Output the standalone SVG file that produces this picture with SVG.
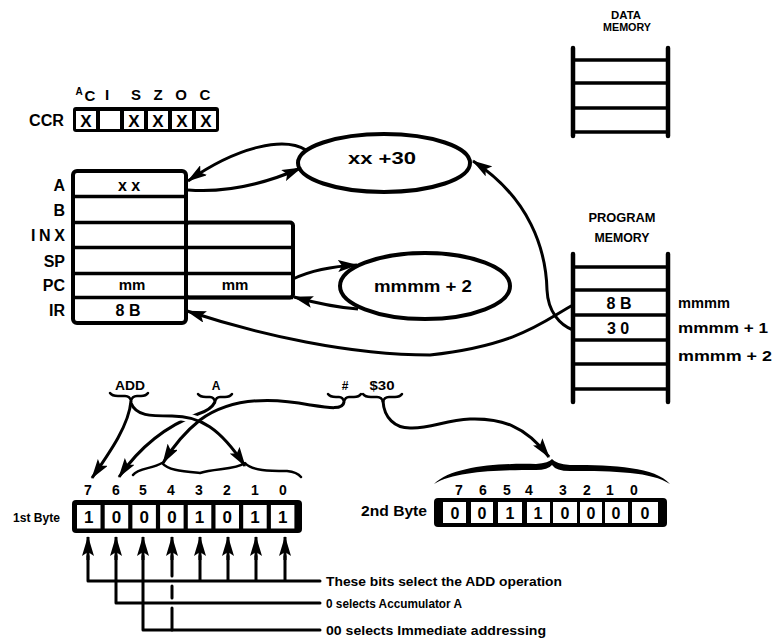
<svg xmlns="http://www.w3.org/2000/svg" width="775" height="644" viewBox="0 0 775 644">
<defs>
<style>
text { font-family: "Liberation Sans", Arial, sans-serif; font-weight: bold; fill: #000; }
.c { text-anchor: middle; }
.e { text-anchor: end; }
.cell { fill: #fff; }
.ln { fill: none; stroke: #000; stroke-width: 3; stroke-linecap: round; stroke-linejoin: round; }
.rail { fill: none; stroke: #000; stroke-width: 4.5; stroke-linecap: round; }
.rung { fill: none; stroke: #000; stroke-width: 3.5; }
.arr { fill: none; stroke: #000; stroke-width: 3; marker-end: url(#ah); }
.halo { fill: none; stroke: #fff; stroke-width: 8; }
.brace { fill: none; stroke: #000; stroke-width: 2.5; stroke-linecap: round; stroke-linejoin: round; }
</style>
<marker id="ah" viewBox="0 0 20 12" refX="19" refY="6" markerWidth="20" markerHeight="12" markerUnits="userSpaceOnUse" orient="auto">
<path d="M0,0 L20,6 L0,12 L4,6 z" fill="#000"/>
</marker>
</defs>
<rect width="775" height="644" fill="#fff"/>

<g id="ccr">
<text x="64" y="126" class="e" font-size="16" textLength="35" lengthAdjust="spacingAndGlyphs">CCR</text>
<text x="79" y="95" class="c" font-size="10">A</text>
<text x="90" y="101" class="c" font-size="15">C</text>
<text x="107" y="100" class="c" font-size="15">I</text>
<text x="136" y="100" class="c" font-size="15">S</text>
<text x="158" y="100" class="c" font-size="15">Z</text>
<text x="181" y="100" class="c" font-size="15">O</text>
<text x="205" y="100" class="c" font-size="15">C</text>
<rect x="73" y="107" width="146" height="25" rx="3" fill="#000"/>
<rect class="cell" x="76" y="111" width="20" height="18"/>
<rect class="cell" x="100" y="111" width="20" height="18"/>
<rect class="cell" x="124" y="111" width="20" height="18"/>
<rect class="cell" x="148" y="111" width="20" height="18"/>
<rect class="cell" x="172" y="111" width="20" height="18"/>
<rect class="cell" x="196" y="111" width="20" height="18"/>
<text x="86" y="127" class="c" font-size="17">X</text>
<text x="134" y="127" class="c" font-size="17">X</text>
<text x="158" y="127" class="c" font-size="17">X</text>
<text x="182" y="127" class="c" font-size="17">X</text>
<text x="206" y="127" class="c" font-size="17">X</text>
</g>

<g id="registers">
<rect x="73" y="171" width="113" height="152" rx="4" fill="#fff" stroke="#000" stroke-width="4"/>
<rect x="186" y="222.5" width="107" height="75" rx="3" fill="#fff" stroke="#000" stroke-width="4"/>
<line class="rung" x1="73" y1="196.5" x2="186" y2="196.5" stroke-width="4"/>
<line class="rung" x1="73" y1="222.5" x2="186" y2="222.5" stroke-width="4"/>
<line class="rung" x1="73" y1="247.5" x2="293" y2="247.5" stroke-width="4"/>
<line class="rung" x1="73" y1="273.5" x2="293" y2="273.5" stroke-width="4"/>
<line class="rung" x1="73" y1="297.5" x2="293" y2="297.5" stroke-width="4"/>
<text x="65" y="191" class="e" font-size="16">A</text>
<text x="65" y="216" class="e" font-size="16">B</text>
<text x="65" y="241" class="e" font-size="16" textLength="34">INX</text>
<text x="65" y="267" class="e" font-size="16">SP</text>
<text x="65" y="291" class="e" font-size="16">PC</text>
<text x="65" y="316" class="e" font-size="16">IR</text>
<text x="129" y="191" class="c" font-size="16">x x</text>
<text x="132" y="290" class="c" font-size="15">mm</text>
<text x="235" y="290" class="c" font-size="15">mm</text>
<text x="128" y="316" class="c" font-size="16">8 B</text>
</g>

<g id="adder-a">
<ellipse cx="384" cy="163" rx="86" ry="29" fill="#fff" stroke="#000" stroke-width="4"/>
<text x="382" y="164" class="c" font-size="17" textLength="68" lengthAdjust="spacingAndGlyphs">xx +30</text>
</g>

<g id="adder-pc">
<ellipse cx="425" cy="286" rx="85" ry="33" fill="#fff" stroke="#000" stroke-width="4"/>
<text x="423" y="292" class="c" font-size="17" textLength="98" lengthAdjust="spacingAndGlyphs">mmmm + 2</text>
</g>

<g id="data-memory">
<text x="626" y="19" class="c" font-size="11" textLength="30" lengthAdjust="spacingAndGlyphs">DATA</text>
<text x="627" y="31" class="c" font-size="11" textLength="48" lengthAdjust="spacingAndGlyphs">MEMORY</text>
<line class="rail" x1="573" y1="48" x2="573" y2="136"/>
<line class="rail" x1="668" y1="48" x2="668" y2="136"/>
<line class="rung" x1="573" y1="60" x2="668" y2="60"/>
<line class="rung" x1="573" y1="83" x2="668" y2="83"/>
<line class="rung" x1="573" y1="108" x2="668" y2="108"/>
<line class="rung" x1="573" y1="132" x2="668" y2="132"/>
</g>

<g id="program-memory">
<text x="622" y="222" class="c" font-size="12" textLength="67" lengthAdjust="spacingAndGlyphs">PROGRAM</text>
<text x="622" y="242" class="c" font-size="12" textLength="55" lengthAdjust="spacingAndGlyphs">MEMORY</text>
<line class="rail" x1="573" y1="254" x2="573" y2="402"/>
<line class="rail" x1="668" y1="254" x2="668" y2="402"/>
<line class="rung" x1="573" y1="267" x2="668" y2="267"/>
<line class="rung" x1="573" y1="290" x2="668" y2="290"/>
<line class="rung" x1="573" y1="315" x2="668" y2="315"/>
<line class="rung" x1="573" y1="340" x2="668" y2="340"/>
<line class="rung" x1="573" y1="364" x2="668" y2="364"/>
<line class="rung" x1="573" y1="389" x2="668" y2="389"/>
<text x="619" y="309" class="c" font-size="16">8 B</text>
<text x="618" y="334" class="c" font-size="16">3 0</text>
<text x="678" y="308" font-size="15" textLength="52" lengthAdjust="spacingAndGlyphs">mmmm</text>
<text x="678" y="333" font-size="15" textLength="90" lengthAdjust="spacingAndGlyphs">mmmm + 1</text>
<text x="678" y="361" font-size="15" textLength="94" lengthAdjust="spacingAndGlyphs">mmmm + 2</text>
</g>

<g id="instruction">
<text x="130" y="390" class="c" font-size="13" textLength="30" lengthAdjust="spacingAndGlyphs">ADD</text>
<text x="216" y="390" class="c" font-size="12">A</text>
<text x="345" y="390" class="c" font-size="12">#</text>
<text x="382" y="390" class="c" font-size="13" textLength="25" lengthAdjust="spacingAndGlyphs">$30</text>
<path class="brace" d="M110,393 Q112,396 118,396 L125,396 Q130,396 131,401 Q132,396 137,396 L141,396 Q146,396 148,393"/>
<path class="brace" d="M198,394 Q200,397 206,397 L210,397 Q214,397 215,402 Q216,397 220,397 L225,397 Q230,397 232,394"/>
<path class="brace" d="M328,394 Q330,397 336,397 L339,397 Q343,397 344,402 Q345,397 349,397 L354,397 Q359,397 361,394"/>
<path class="brace" d="M363,394 Q365,397 371,397 L377,397 Q382,397 383,402 Q384,397 389,397 L395,397 Q400,397 402,394"/>
</g>

<g id="connectors">
<path class="arr" d="M306,150 C 285,137 240,145 188,181"/>
<path class="arr" d="M188,190 C 225,193 262,185 301,168"/>
<path class="arr" d="M293,279 Q 318,267 357,265"/>
<path class="arr" d="M358,309 Q 330,307 294,297"/>
<path class="arr" d="M573,330 C 560,325 548,312 547,290 C 546,250 530,198 473,161"/>
<path class="arr" d="M573,305 C 545,320 520,345 430,355 C 350,355 260,335 187,311"/>
<path class="arr" d="M215,402 Q 211,410 198,414 Q 150,432 119,477"/>
<path class="arr" d="M131,401 C 129,425 110,452 92,478"/>
<path class="halo" d="M137,412 C 145,416 155,416 172,416 C 200,416 220,428 235,450"/>
<path class="arr" d="M131,403 C 136,416 150,416 172,416 C 200,416 220,428 245,466"/>
<path class="arr" d="M344,402 C 343,410 330,408 310,405 C 270,397 230,398 200,420 C 185,432 172,448 163,463"/>
<path class="arr" d="M383,401 C 384,418 395,428 410,428 C 430,429 445,420 470,419 C 500,418 525,425 549,457"/>
</g>

<g id="byte1">
<text x="60" y="522" class="e" font-size="12.5" textLength="47" lengthAdjust="spacingAndGlyphs">1st Byte</text>
<path class="brace" d="M133,475 C 138,468 152,469 162,463 C 168,470 180,471 200,473 C 215,468 235,470 245,463 C 252,471 270,471 287,471 Q 297,472 301,477"/>
<text x="88" y="495" class="c" font-size="14">7</text>
<text x="116" y="495" class="c" font-size="14">6</text>
<text x="143" y="495" class="c" font-size="14">5</text>
<text x="171" y="495" class="c" font-size="14">4</text>
<text x="199" y="495" class="c" font-size="14">3</text>
<text x="227" y="495" class="c" font-size="14">2</text>
<text x="255" y="495" class="c" font-size="14">1</text>
<text x="283" y="495" class="c" font-size="14">0</text>
<rect x="72" y="500" width="230" height="33" rx="4" fill="#000"/>
<rect class="cell" x="77" y="505" width="23.5" height="23.5"/>
<rect class="cell" x="104.7" y="505" width="23.5" height="23.5"/>
<rect class="cell" x="132.4" y="505" width="23.5" height="23.5"/>
<rect class="cell" x="160.1" y="505" width="23.5" height="23.5"/>
<rect class="cell" x="187.8" y="505" width="23.5" height="23.5"/>
<rect class="cell" x="215.5" y="505" width="23.5" height="23.5"/>
<rect class="cell" x="243.2" y="505" width="23.5" height="23.5"/>
<rect class="cell" x="270.9" y="505" width="23.5" height="23.5"/>
<text x="88.8" y="523" class="c" font-size="17">1</text>
<text x="116.5" y="523" class="c" font-size="17">0</text>
<text x="144.2" y="523" class="c" font-size="17">0</text>
<text x="171.9" y="523" class="c" font-size="17">0</text>
<text x="199.6" y="523" class="c" font-size="17">1</text>
<text x="227.3" y="523" class="c" font-size="17">0</text>
<text x="255" y="523" class="c" font-size="17">1</text>
<text x="282.7" y="523" class="c" font-size="17">1</text>
</g>

<g id="byte2">
<text x="427" y="516" class="e" font-size="14" textLength="66" lengthAdjust="spacingAndGlyphs">2nd Byte</text>
<path d="M434,484 C 452,466 500,463 536,464 Q 549,463 552,459 Q 556,464 570,465 C 615,465 655,467 670,484 C 652,472 615,471 570,471 Q 556,471 552,465 Q 548,470 536,470 C 500,470 455,471 434,484 Z" fill="#000"/>
<text x="459" y="495" class="c" font-size="14">7</text>
<text x="483" y="495" class="c" font-size="14">6</text>
<text x="507" y="495" class="c" font-size="14">5</text>
<text x="529" y="495" class="c" font-size="14">4</text>
<text x="563" y="495" class="c" font-size="14">3</text>
<text x="587" y="495" class="c" font-size="14">2</text>
<text x="610" y="495" class="c" font-size="14">1</text>
<text x="634" y="495" class="c" font-size="14">0</text>
<rect x="434" y="498" width="233" height="29" rx="4" fill="#000"/>
<rect class="cell" x="443" y="502" width="23" height="21"/>
<rect class="cell" x="471" y="502" width="22" height="21"/>
<rect class="cell" x="498" y="502" width="24" height="21"/>
<rect class="cell" x="527" y="502" width="23" height="21"/>
<rect class="cell" x="553" y="502" width="24" height="21"/>
<rect class="cell" x="580" y="502" width="22" height="21"/>
<rect class="cell" x="605" y="502" width="23" height="21"/>
<rect class="cell" x="632" y="502" width="26" height="21"/>
<text x="455" y="519" class="c" font-size="16">0</text>
<text x="482" y="519" class="c" font-size="16">0</text>
<text x="510" y="519" class="c" font-size="16">1</text>
<text x="538" y="519" class="c" font-size="16">1</text>
<text x="565" y="519" class="c" font-size="16">0</text>
<text x="591" y="519" class="c" font-size="16">0</text>
<text x="616" y="519" class="c" font-size="16">0</text>
<text x="645" y="519" class="c" font-size="16">0</text>
</g>

<g id="bit-legend">
<line class="arr" x1="88" y1="560" x2="88" y2="537"/>
<line class="arr" x1="116" y1="560" x2="116" y2="537"/>
<line class="arr" x1="143" y1="560" x2="143" y2="537"/>
<line class="arr" x1="172" y1="560" x2="172" y2="537"/>
<line class="arr" x1="200" y1="560" x2="200" y2="537"/>
<line class="arr" x1="228" y1="560" x2="228" y2="537"/>
<line class="arr" x1="256" y1="560" x2="256" y2="537"/>
<line class="arr" x1="285" y1="560" x2="285" y2="537"/>
<path class="ln" d="M88,556 V581 H320 M200,556 V581 M228,556 V581 M256,556 V581 M285,556 V581"/>
<path class="ln" d="M116,556 V603 H320"/>
<path class="ln" d="M143,556 V630 H320"/>
<path class="ln" d="M172,556 V576 M172,586 V598 M172,608 V630"/>
<text x="326" y="585.5" font-size="12.5" textLength="236" lengthAdjust="spacingAndGlyphs">These bits select the ADD operation</text>
<text x="326" y="607.5" font-size="12.5" textLength="136" lengthAdjust="spacingAndGlyphs">0 selects Accumulator A</text>
<text x="326" y="634.5" font-size="12.5" textLength="220" lengthAdjust="spacingAndGlyphs">00 selects Immediate addressing</text>
</g>
</svg>
